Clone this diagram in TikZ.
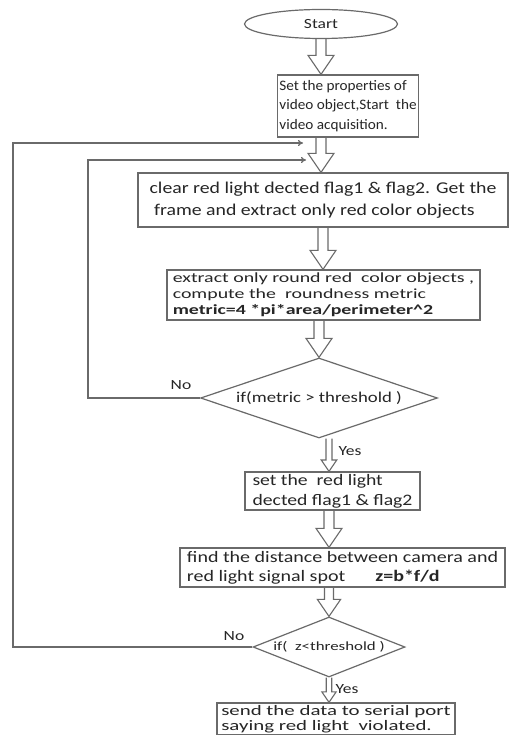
\documentclass[tikz,border=0pt]{standalone}
\usepackage{fontspec}
\setmainfont{Carlito}
\usetikzlibrary{arrows.meta,positioning,calc,shapes.geometric}
\definecolor{flowline}{HTML}{6A6A6A}
\definecolor{flowtext}{HTML}{262626}
% hollow block arrow between two anchors (x taken from the first one)
\newcommand{\hollowarrow}[3][1]{%
  \draw[hollow] let \p1=(#2), \p2=(#3) in
    (\x1-5pt*#1,\y1) -- (\x1-5pt*#1,\y2+19pt*#1) -- (\x1-13pt*#1,\y2+19pt*#1)
    -- (\x1,\y2) -- (\x1+13pt*#1,\y2+19pt*#1) -- (\x1+5pt*#1,\y2+19pt*#1)
    -- (\x1+5pt*#1,\y1);}
% size, line skip, horizontal stretch
\newcommand{\wfont}[3]{\fontsize{#1}{#2}\selectfont\addfontfeatures{FakeStretch=#3}}

\begin{document}
\begin{tikzpicture}[x=1pt,y=-1pt,
  box/.style={rectangle, draw=flowline, line width=1.3pt, text=flowtext,
              align=left, inner sep=2pt},
  terminal/.style={ellipse, draw=flowline, line width=1.2pt, text=flowtext,
                   minimum width=153pt, minimum height=29pt, inner sep=0pt},
  decision/.style={diamond, draw=flowline, line width=1.2pt, text=flowtext,
                   inner sep=0pt, aspect=3},
  hollow/.style={draw=flowline, line width=1.1pt, line join=miter},
  loop/.style={draw=flowline, line width=1.3pt, -{To[length=5pt,width=6pt]}},
  tag/.style={text=flowtext, font=\wfont{14}{14}{1.25}}
]
\useasboundingbox[fill=white] (0,0) rectangle (510,735);

% main column
\node[terminal, font=\wfont{14}{14}{1.25}] (start) at (321,24) {Start};
\node[box, minimum width=140pt, minimum height=62pt,
      font=\wfont{14.5}{19.5}{1.05}] (props) at (348,106)
  {Set the properties of\\video object,Start\ \ the\\video acquisition.};
\node[box, minimum width=370pt, minimum height=54pt,
      font=\wfont{16.5}{22}{1.2}] (clear) at (323,200)
  {clear red light dected flag1 \& flag2. Get the\\\ frame and extract only red color objects};
\node[box, minimum width=313pt, minimum height=50pt,
      font=\wfont{14}{16}{1.42}] (round) at (323.5,295)
  {extract only round red\ \ color objects ,\\compute the\ \ roundness metric\\
   \textbf{metric=4 *pi*area/perimeter\textasciicircum2}};
\node[decision, minimum width=237pt, minimum height=80pt,
      font=\wfont{15}{15}{1.25}] (ifmetric) at (319,398) {if(metric > threshold )};
\node[box, minimum width=175pt, minimum height=38pt,
      font=\wfont{16}{20}{1.23}] (setflag) at (332.5,491)
  {set the\ \ red light\\dected flag1 \& flag2};
\node[box, minimum width=325pt, minimum height=39pt,
      font=\wfont{16}{19}{1.25}] (dist) at (342.5,567.5)
  {find the distance between camera and\\red light signal spot\hspace{30pt}\textbf{z=b*f/d}};
\node[decision, minimum width=152pt, minimum height=60pt,
      font=\wfont{12.5}{12.5}{1.35}] (ifz) at (329,647) {if(\ \ z<threshold )};
\node[box, minimum width=238pt, minimum height=32pt,
      font=\wfont{14.5}{15.5}{1.44}] (send) at (336,719)
  {send the data to serial port\\saying red light\ \ violated.};

% block arrows
\hollowarrow{start.south}{props.north -| start.south}
\hollowarrow{props.south -| start.south}{clear.north -| start.south}
\hollowarrow{clear.south}{round.north -| clear.south}
\hollowarrow{round.south -| ifmetric.north}{ifmetric.north}
\hollowarrow[0.6]{ifmetric.south -| ifz.north}{setflag.north -| ifz.north}
\hollowarrow{setflag.south -| ifz.north}{dist.north -| ifz.north}
\hollowarrow[0.9]{dist.south -| ifz.north}{ifz.north}
\hollowarrow[0.55]{ifz.south}{send.north -| ifz.south}

% feedback loops
\coordinate (innerin) at (306,160);
\coordinate (outerin) at (303,143);
\coordinate (innerleft) at (88,0);
\coordinate (outerleft) at (13,0);
\draw[loop] (ifmetric.west) -- (ifmetric.west -| innerleft) |- (innerin);
\draw[loop] (ifz.west) -- (ifz.west -| outerleft) |- (outerin);

% branch labels
\node[tag] (no1) at (181,385) {No};
\node[tag] (yes1) at (350,451) {Yes};
\node[tag] (no2) at (234,636) {No};
\node[tag] (yes2) at (347,689) {Yes};
\end{tikzpicture}
\end{document}
